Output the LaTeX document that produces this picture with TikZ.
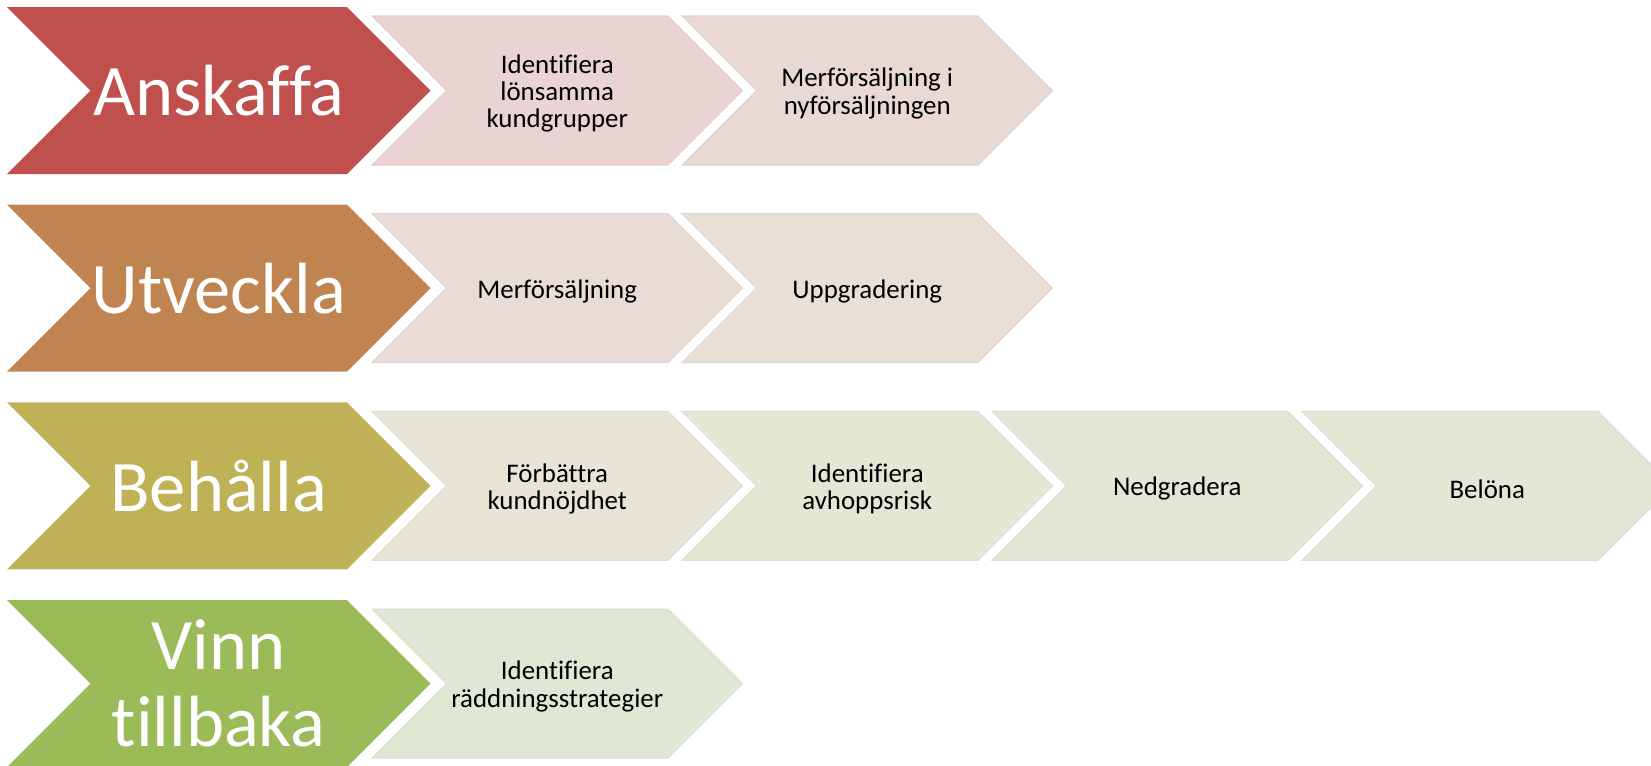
\documentclass[tikz,border=0pt]{standalone}
\usepackage{fontspec}
\setmainfont{Carlito}[Ligatures=NoCommon]

\definecolor{anskaffa}{HTML}{C0504D}
\definecolor{utveckla}{HTML}{C08450}
\definecolor{behalla}{HTML}{BFB256}
\definecolor{vinn}{HTML}{9BBB59}
\definecolor{tintA}{HTML}{E9D3D3}
\definecolor{tintB}{HTML}{E9D9D5}
\definecolor{tintC}{HTML}{E9DCD6}
\definecolor{tintD}{HTML}{E8E0D6}
\definecolor{tintE}{HTML}{E8E4D6}
\definecolor{tintF}{HTML}{E6E6D5}
\definecolor{tintG}{HTML}{E4E7D5}
\definecolor{tintH}{HTML}{E2E8D5}
\definecolor{tintI}{HTML}{E0E8D5}

\begin{document}
\begin{tikzpicture}[x=0.02cm, y=-0.02cm,
    bigchev/.style={fill=#1, draw=none},
    smallchev/.style={fill=#1, draw=#1!97!black, line width=0.6pt},
    bigtext/.style={text=white, align=center, inner sep=0pt, font=\fontsize{41.3}{44}\selectfont},
    smalltext/.style={text=black, align=center, inner sep=0pt, font=\fontsize{15.3}{15.6}\selectfont}]

% ===== Define layout parameters =====
\def\rowPitch{197.7}  % vertical distance between rows
\def\bigX{7}          % left edge of stage chevrons
\def\bigW{340}        % body width of stage chevrons
\def\bigH{167}        % height of stage chevrons
\def\smallX{372}      % left edge of first step chevron
\def\smallW{296}      % body width of step chevrons
\def\smallH{149}      % height of step chevrons
\def\colPitch{310}    % horizontal distance between step chevrons

\useasboundingbox (0,0) rectangle (1651,765);
\clip (0,0) rectangle (1651,765);

% ===== Stage chevrons =====
\foreach \lbl/\col [count=\r] in {Anskaffa/anskaffa, Utveckla/utveckla, Behålla/behalla, {Vinn\\tillbaka}/vinn} {
    \pgfmathsetmacro\y{7+(\r-1)*\rowPitch} % top of row
    \draw[bigchev=\col] (\bigX,\y) -- ++(\bigW,0) -- ++(\bigH/2,\bigH/2) -- ++(-\bigH/2,\bigH/2)
        -- ++(-\bigW,0) -- ++(\bigH/2,-\bigH/2) -- cycle;
    \node[bigtext] (S\r) at (\bigX+\bigW/2+\bigH/4, \y+\bigH/2) {\lbl};
}

% ===== Step chevrons =====
\foreach \r/\c/\txt/\col in {1/1/{Identifiera\\lönsamma\\kundgrupper}/tintA,
        1/2/{Merförsäljning i\\nyförsäljningen}/tintB,
        2/1/Merförsäljning/tintC, 2/2/Uppgradering/tintD,
        3/1/{Förbättra\\kundnöjdhet}/tintE, 3/2/{Identifiera\\avhoppsrisk}/tintF,
        3/3/Nedgradera/tintG, 3/4/Belöna/tintH,
        4/1/{Identifiera\\räddningsstrategier}/tintI} {
    \pgfmathsetmacro\y{7+(\r-1)*\rowPitch+9}
    \pgfmathsetmacro\x{\smallX+(\c-1)*\colPitch}
    \draw[smallchev=\col] (\x,\y) -- ++(\smallW,0) -- ++(\smallH/2,\smallH/2) -- ++(-\smallH/2,\smallH/2)
        -- ++(-\smallW,0) -- ++(\smallH/2,-\smallH/2) -- cycle;
    \node[smalltext] (T\r\c) at (\x+\smallW/2+\smallH/4, \y+\smallH/2+3) {\txt};
}

\end{tikzpicture}
\end{document}
